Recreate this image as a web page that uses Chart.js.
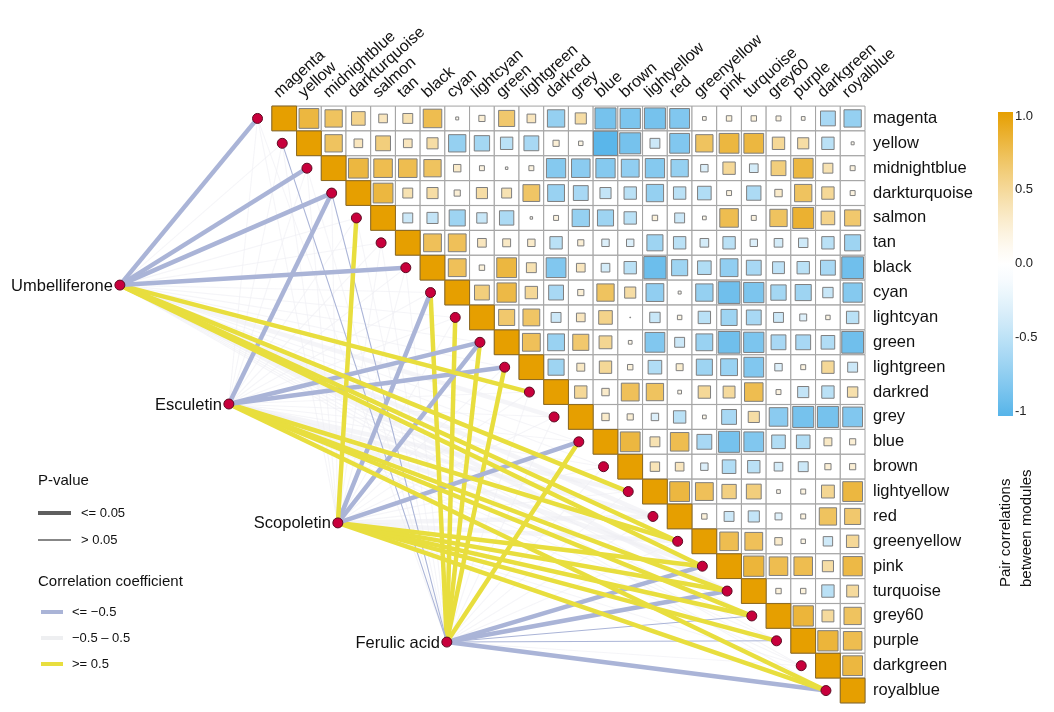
<!DOCTYPE html>
<html>
<head>
<meta charset="utf-8">
<script src="https://cdn.jsdelivr.net/npm/chart.js@4.4.1/dist/chart.umd.min.js"></script>
<style>
html, body { margin: 0; padding: 0; background: #fff; }
#wrap { width: 1054px; height: 712px; }
</style>
</head>
<body>
<div id="wrap"><canvas id="chart"></canvas></div>
<script>
// module names, in matrix order
var modules = ["magenta", "yellow", "midnightblue", "darkturquoise", "salmon", "tan", "black", "cyan",
  "lightcyan", "green", "lightgreen", "darkred", "grey", "blue", "brown", "lightyellow", "red",
  "greenyellow", "pink", "turquoise", "grey60", "purple", "darkgreen", "royalblue"];

// upper triangle of pair correlations, row i holds columns i+1 .. 23
var corrRows = [
  [0.8, 0.7, 0.55, 0.35, 0.4, 0.75, 0.12, 0.25, 0.65, 0.35, -0.7, 0.45, -0.85, -0.82, -0.85, -0.8, 0.15, 0.22, 0.22, 0.2, 0.15, -0.6, -0.7],
  [0.7, 0.35, 0.6, 0.35, 0.45, -0.7, -0.62, -0.5, -0.6, 0.25, 0.18, -0.98, -0.85, -0.4, -0.8, 0.7, 0.8, 0.8, 0.5, 0.45, -0.5, 0.12],
  [0.8, 0.75, 0.75, 0.7, 0.3, 0.2, 0.1, 0.2, -0.78, -0.75, -0.78, -0.72, -0.78, -0.7, -0.3, 0.5, -0.35, 0.6, 0.8, 0.4, 0.2],
  [0.8, 0.4, 0.45, 0.25, 0.45, 0.4, 0.68, -0.68, -0.6, -0.45, -0.5, -0.7, -0.5, -0.55, 0.2, -0.58, 0.3, 0.7, 0.5, 0.2],
  [-0.4, -0.45, -0.65, -0.42, -0.58, 0.1, 0.2, -0.7, -0.65, -0.5, 0.22, -0.4, 0.15, 0.75, 0.2, 0.7, 0.85, 0.55, 0.65],
  [0.72, 0.72, 0.35, 0.32, 0.3, -0.5, 0.25, -0.3, -0.3, -0.65, -0.5, -0.35, -0.5, -0.3, -0.35, -0.38, -0.5, -0.65],
  [0.72, 0.22, 0.8, 0.4, -0.8, 0.35, -0.35, -0.5, -0.9, -0.65, -0.55, -0.72, -0.6, -0.48, -0.5, -0.6, -0.88],
  [0.6, 0.78, 0.5, -0.6, 0.25, 0.7, 0.45, -0.72, 0.12, -0.7, -0.88, -0.82, -0.62, -0.65, -0.42, -0.78],
  [0.65, 0.68, -0.4, 0.35, 0.55, 0.03, -0.42, 0.18, -0.5, -0.65, -0.6, -0.4, -0.28, 0.18, -0.5],
  [0.72, -0.68, 0.65, 0.52, 0.15, -0.8, -0.4, -0.68, -0.88, -0.82, -0.6, -0.6, -0.55, -0.88],
  [-0.65, 0.32, 0.5, 0.22, -0.55, 0.28, -0.65, -0.68, -0.8, -0.3, 0.2, 0.5, -0.4],
  [0.5, 0.3, 0.72, 0.7, 0.15, 0.5, 0.48, 0.75, 0.2, -0.45, -0.5, 0.42],
  [0.3, 0.25, -0.3, -0.5, 0.15, -0.6, 0.45, -0.75, -0.85, -0.85, -0.8],
  [0.8, 0.4, 0.75, -0.6, -0.85, -0.8, -0.55, -0.55, 0.32, 0.25],
  [0.38, 0.35, -0.3, -0.55, -0.5, -0.35, -0.4, 0.25, 0.25],
  [0.8, 0.72, 0.58, 0.6, 0.15, 0.2, 0.52, 0.8],
  [0.22, -0.4, -0.45, -0.28, 0.2, 0.7, 0.65],
  [0.75, 0.72, 0.3, 0.18, -0.38, 0.5],
  [0.82, 0.75, 0.75, 0.45, 0.78],
  [0.22, 0.22, -0.5, 0.48],
  [0.82, 0.48, 0.7],
  [0.82, 0.75],
  [0.8]
];

// compounds and where their nodes sit (in matrix units)
var compounds = ["Umbelliferone", "Esculetin", "Scopoletin", "Ferulic acid"];
var compoundX = [-6.65, -2.24, 2.17, 6.58];
var compoundY = [6.70, 11.48, 16.26, 21.05];
var nodeShift = 1.08;

// compound - module correlations and significance (1 = p <= 0.05)
var umbR   = [-0.62, 0.12, -0.6, -0.63, 0.22, 0.18, -0.61, 0.3, 0.25, 0.1, 0.2, 0.62, 0.3, -0.15, 0.35, 0.6, 0.38, 0.55, 0.56, 0.4, 0.35, 0.2, 0.1, 0.3];
var umbSig = [1, 0, 1, 1, 0, 0, 1, 0, 0, 0, 0, 1, 1, 0, 0, 1, 1, 1, 1, 1, 0, 0, 0, 0];
var escR   = [0.2, 0.15, 0.1, -0.6, 0.1, 0.2, 0.15, 0.3, 0.2, -0.6, -0.58, 0.3, 0.2, -0.2, 0.3, 0.4, 0.35, 0.58, 0.4, 0.57, 0.55, 0.4, 0.3, 0.6];
var escSig = [0, 0, 0, 1, 0, 0, 0, 0, 0, 1, 1, 0, 0, 0, 0, 1, 1, 1, 1, 1, 1, 0, 0, 1];
var scoR   = [0.1, 0.2, 0.15, 0.2, 0.6, 0.3, 0.2, -0.58, 0.3, -0.6, 0.1, 0.3, 0.2, -0.57, 0.3, 0.4, 0.45, 0.4, 0.6, 0.58, 0.57, 0.56, 0.4, 0.55];
var scoSig = [0, 0, 0, 0, 1, 0, 0, 1, 0, 1, 0, 0, 0, 1, 0, 0, 1, 1, 1, 1, 1, 1, 0, 1];
var ferR   = [0.2, -0.55, 0.1, -0.52, 0.2, 0.3, 0.25, 0.62, 0.6, 0.63, 0.6, 0.2, 0.3, 0.58, 0.3, 0.1, 0.2, -0.3, -0.58, -0.6, -0.52, -0.53, -0.2, -0.62];
var ferSig = [0, 0, 0, 0, 0, 0, 0, 1, 1, 1, 1, 0, 0, 1, 0, 0, 0, 0, 1, 1, 0, 0, 0, 1];
var linkR = [umbR, escR, scoR, ferR];
var linkSig = [umbSig, escSig, scoSig, ferSig];

// colorbar ticks
var barTicks = [1, 0.5, 0, -0.5, -1];
var barLabels = ["1.0", "0.5", "0.0", "-0.5", "-1"];

var posEnd = [230, 159, 0];
var negEnd = [86, 180, 233];
var FONT = "'Liberation Sans', Arial, Helvetica, sans-serif";

function corrColor(v) {
    var t = Math.pow(Math.min(1, Math.abs(v)), 1.3);
    var e = v >= 0 ? posEnd : negEnd;
    return "rgb(" + Math.round(255 + (e[0] - 255) * t) + "," + Math.round(255 + (e[1] - 255) * t) + "," + Math.round(255 + (e[2] - 255) * t) + ")";
}

function linkColor(r) {
    if (r <= -0.5) return "#aab4d7";
    if (r >= 0.5) return "#e8de3e";
    return "rgba(238,239,243,0.6)";
}

function cellSide(chart) {
    var sx = chart.scales.x, sy = chart.scales.y;
    return Math.min(Math.abs(sx.getPixelForValue(1) - sx.getPixelForValue(0)),
        Math.abs(sy.getPixelForValue(1) - sy.getPixelForValue(0)));
}

var cellData = [], diagData = [], valueData = [];
for (var i = 0; i < modules.length; i++) {
    for (var j = i; j < modules.length; j++) {
        cellData.push({x: j, y: i});
        if (j === i) diagData.push({x: j, y: i});
        else valueData.push({x: j, y: i, v: corrRows[i][j - i - 1]});
    }
}

var datasets = [];

datasets.push({
    label: "modules", data: modules.map(function (m, k) { return {x: k - nodeShift, y: k}; }),
    pointStyle: "circle", pointRadius: 5, backgroundColor: "#c8003c", borderColor: "#5c0a22",
    borderWidth: 1, order: 0
});
datasets.push({
    label: "compounds", data: compounds.map(function (c, k) { return {x: compoundX[k], y: compoundY[k]}; }),
    pointStyle: "circle", pointRadius: 5, backgroundColor: "#c8003c", borderColor: "#5c0a22",
    borderWidth: 1, order: 0
});
datasets.push({
    label: "diag", data: diagData, pointStyle: "rect",
    pointRadius: function (ctx) { return cellSide(ctx.chart) / Math.SQRT2; },
    backgroundColor: "#e69f00", borderColor: "#8d6a22", borderWidth: 1, order: 10
});
datasets.push({
    label: "values", data: valueData, pointStyle: "rect",
    pointRadius: function (ctx) { return Math.abs(ctx.raw.v) * cellSide(ctx.chart) / Math.SQRT2; },
    backgroundColor: function (ctx) { return corrColor(ctx.raw.v); },
    borderColor: "#7f7f7f", borderWidth: 1, order: 20
});
datasets.push({
    label: "cells", data: cellData, pointStyle: "rect",
    pointRadius: function (ctx) { return cellSide(ctx.chart) / Math.SQRT2; },
    backgroundColor: "#ffffff", borderColor: "#a3a3a3", borderWidth: 1, order: 30
});

for (var c = 0; c < compounds.length; c++) {
    for (var m = 0; m < modules.length; m++) {
        var r = linkR[c][m], sig = linkSig[c][m];
        var strong = r <= -0.5 || r >= 0.5;
        datasets.push({
            label: compounds[c] + "-" + modules[m],
            data: [{x: compoundX[c], y: compoundY[c]}, {x: m - nodeShift, y: m}],
            showLine: true, pointRadius: 0, borderColor: linkColor(r),
            borderWidth: sig ? 4.5 : 1.1, order: strong ? 50 : 60
        });
    }
}

var extras = {
    id: "extras",
    afterDraw: function (chart) {
        var ctx = chart.ctx, sx = chart.scales.x, sy = chart.scales.y;
        ctx.save();
        // compound names
        ctx.fillStyle = "#111";
        ctx.font = "16.5px " + FONT;
        ctx.textAlign = "right";
        ctx.textBaseline = "middle";
        compounds.forEach(function (name, k) {
            ctx.fillText(name, sx.getPixelForValue(compoundX[k]) - 7, sy.getPixelForValue(compoundY[k]) + 1);
        });

        // colorbar
        var top = 112, bottom = 416, bx = 998, bw = 15;
        var grad = ctx.createLinearGradient(0, top, 0, bottom);
        for (var s = 0; s <= 20; s++) grad.addColorStop(s / 20, corrColor(1 - s / 10));
        ctx.fillStyle = grad;
        ctx.fillRect(bx, top, bw, bottom - top);
        ctx.fillStyle = "#222";
        ctx.font = "13px " + FONT;
        ctx.textAlign = "left";
        barTicks.forEach(function (v, k) {
            ctx.fillText(barLabels[k], bx + 17, 116 + (1 - v) * 147.5);
        });
        ctx.save();
        ctx.translate(1006, 587);
        ctx.rotate(-Math.PI / 2);
        ctx.font = "15px " + FONT;
        ctx.fillStyle = "#111";
        ctx.textAlign = "left";
        ctx.fillText("Pair correlations", 0, 0);
        ctx.fillText("between modules", 0, 21);
        ctx.restore();

        // legend
        ctx.fillStyle = "#111";
        ctx.textAlign = "left";
        ctx.font = "15px " + FONT;
        ctx.fillText("P-value", 38, 481);
        ctx.fillText("Correlation coefficient", 38, 582);
        ctx.font = "13px " + FONT;
        ctx.fillText("<= 0.05", 81, 513);
        ctx.fillText("> 0.05", 81, 540);
        ctx.fillText("<= \u22120.5", 72, 612);
        ctx.fillText("\u22120.5 \u2013 0.5", 72, 638);
        ctx.fillText(">= 0.5", 72, 664);
        ctx.lineCap = "butt";
        var legendLines = [
            [38, 71, 513, 4, "#5f5f5f"], [38, 71, 540, 1.3, "#5f5f5f"],
            [41, 63, 612, 4, "#aab4d7"], [41, 63, 638, 4, "#eeeff1"], [41, 63, 664, 4, "#e8de3e"]
        ];
        legendLines.forEach(function (l) {
            ctx.strokeStyle = l[4];
            ctx.lineWidth = l[3];
            ctx.beginPath();
            ctx.moveTo(l[0], l[2]);
            ctx.lineTo(l[1], l[2]);
            ctx.stroke();
        });
        ctx.restore();
    }
};

var chart = new Chart(document.getElementById("chart"), {
    type: "scatter",
    data: {datasets: datasets},
    options: {
        responsive: true,
        maintainAspectRatio: false,
        animation: false,
        events: [],
        layout: {autoPadding: false, padding: {top: 0, left: 0, right: 0, bottom: 9}},
        datasets: {scatter: {clip: false}},
        plugins: {legend: {display: false}, tooltip: {enabled: false}},
        scales: {
            x: {
                type: "linear", position: "top", min: -11.5, max: 23.5,
                grid: {display: false, drawTicks: false}, border: {display: false},
                afterBuildTicks: function (s) { s.ticks = modules.map(function (m, k) { return {value: k}; }); },
                afterFit: function (s) { s.height = 106; s.paddingLeft = 0; s.paddingRight = 0; },
                ticks: {
                    autoSkip: false, minRotation: 42, maxRotation: 42, padding: 4, labelOffset: 5, color: "#111",
                    font: {family: FONT, size: 16},
                    callback: function (v) { return modules[v]; }
                }
            },
            y: {
                type: "linear", position: "right", reverse: true, min: -0.5, max: 23.5,
                grid: {display: false, drawTicks: false}, border: {display: false},
                afterBuildTicks: function (s) { s.ticks = modules.map(function (m, k) { return {value: k}; }); },
                afterFit: function (s) { s.width = 189; s.paddingTop = 0; s.paddingBottom = 0; },
                ticks: {
                    autoSkip: false, padding: 8, color: "#111",
                    font: {family: FONT, size: 16.5},
                    callback: function (v) { return modules[v]; }
                }
            }
        }
    },
    plugins: [extras]
});
</script>
</body>
</html>
